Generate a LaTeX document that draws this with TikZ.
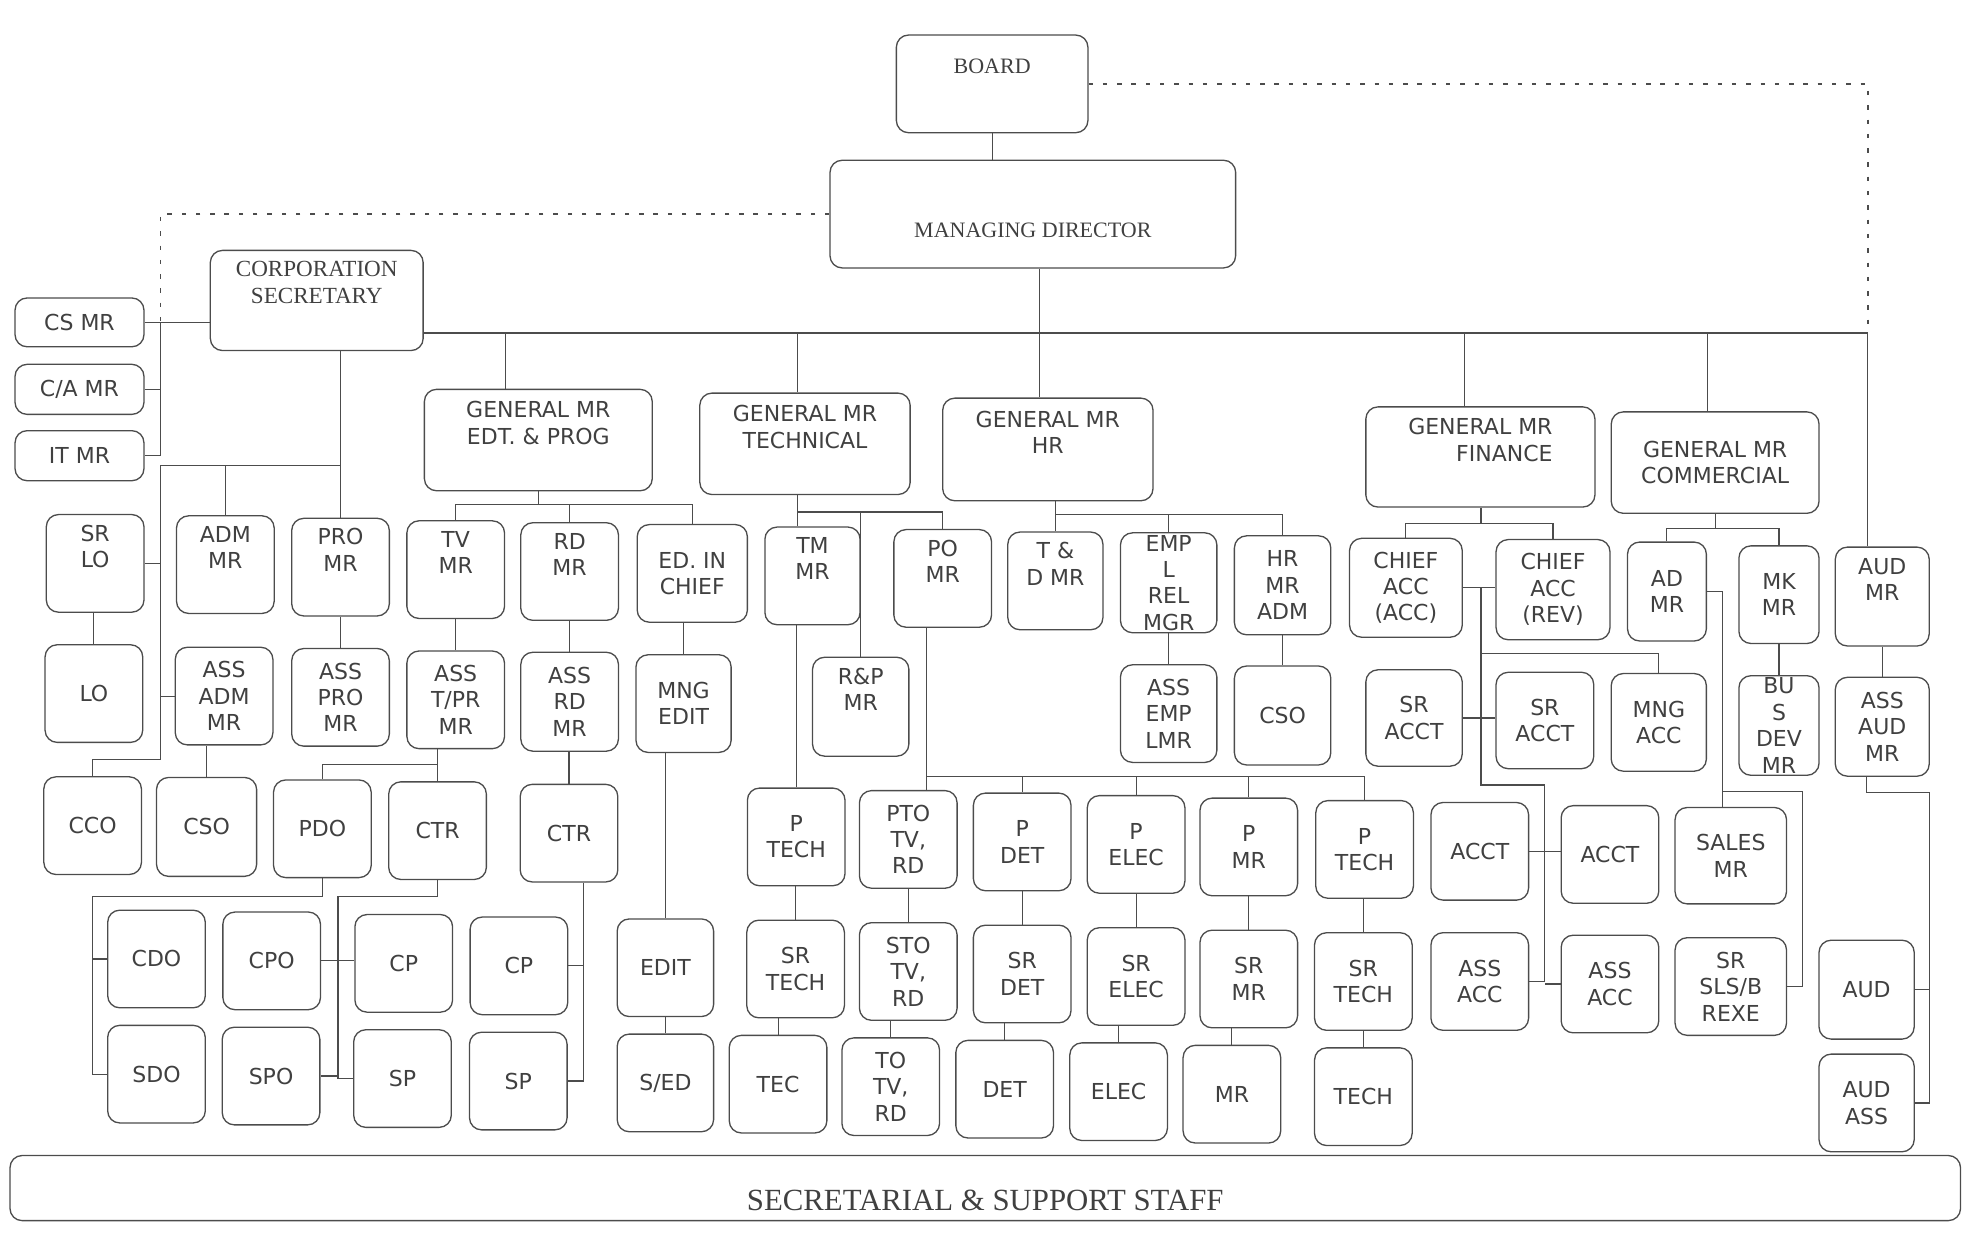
\documentclass[tikz,border=0pt]{standalone}
\usepackage{fontspec}
\setmainfont{DejaVu Sans}
\newfontfamily\serifface{Liberation Serif}
\usetikzlibrary{calc}

\tikzset{
  post/.style={draw=black!70, line width=0.6pt, rounded corners=5.5pt, align=center, inner sep=1pt,
    minimum width=1.56cm, minimum height=1.56cm, text=black!75, font=\fontsize{10}{12}\selectfont},
  wh/.style 2 args={minimum width=#1*0.02cm, minimum height=#2*0.02cm},
  head/.style={post, font=\serifface\fontsize{10}{12.5}\selectfont},
  link/.style={draw=black!70, line width=0.5pt},
  dots/.style={draw=black!70, line width=0.6pt, dash pattern=on 2pt off 4.5pt},
}

\begin{document}
\begin{tikzpicture}[x=0.02cm, y=-0.02cm]
    \useasboundingbox (0,0) rectangle (1568,998);

    % Board and managing director
    \node[head, wh={153}{78}] (board) at (792.5,67) {BOARD\\\strut};
    \node[head, wh={324}{86}] (md) at (825,171) {\strut\\MANAGING DIRECTOR};

    % Corporation secretary and its managers
    \node[head, wh={170}{80}, font=\serifface\fontsize{10.5}{12.5}\selectfont] (corpsec) at (253,240) {CORPORATION\\SECRETARY\\\strut};
    \node[post, wh={103}{39}] (csmr) at (63.5,257.5) {CS MR};
    \node[post, wh={103}{40}] (camr) at (63.5,311) {C/A MR};
    \node[post, wh={103}{40}] (itmr) at (63.5,364) {IT MR};

    % General managers
    \node[post, wh={182}{81}] (gmedt) at (430,351.5) {GENERAL MR\\EDT. \& PROG\\\strut};
    \node[post, wh={168}{81}] (gmtech) at (643,354.5) {GENERAL MR\\TECHNICAL\\\strut};
    \node[post, wh={168}{82}] (gmhr) at (837,359) {GENERAL MR\\HR\\\strut};
    \node[post, wh={183}{80}, align=right] (gmfin) at (1182.5,365) {GENERAL MR\\FINANCE\\\strut};
    \node[post, wh={166}{81}] (gmcomm) at (1370,369.5) {GENERAL MR\\COMMERCIAL};

    % Corporation secretary staff
    \node[post] (srlo) at (76,450) {SR\\LO\\\strut};
    \node[post] (lo) at (75,554) {LO};
    \node[post] (admmr) at (180,451) {ADM\\MR\\\strut};
    \node[post] (promr) at (272,453) {PRO\\MR\\\strut};
    \node[post] (assadmmr) at (179,556) {ASS\\ADM\\MR};
    \node[post] (asspromr) at (272,557) {ASS\\PRO\\MR};
    \node[post] (cco) at (74,659.5) {CCO};
    \node[post, wh={80}{79}] (csoa) at (165,660.5) {CSO};

    % Editorial and programmes
    \node[post] (tvmr) at (364,455) {TV\\MR\\\strut};
    \node[post] (rdmr) at (455,456.5) {RD\\MR\\\strut};
    \node[post, wh={88}{78}] (edinchief) at (553,458) {ED. IN\\CHIEF};
    \node[post] (asstprmr) at (364,559) {ASS\\T/PR\\MR};
    \node[post, wh={78}{79}] (assrdmr) at (455,560.5) {ASS\\RD\\MR};
    \node[post, wh={76}{78}] (mngedit) at (546,562) {MNG\\EDIT};
    \node[post] (pdo) at (257.5,662) {PDO};
    \node[post] (ctra) at (349.5,663.5) {CTR};
    \node[post] (ctrb) at (454.5,665.5) {CTR};
    \node[post] (cdo) at (125,766) {CDO};
    \node[post] (cpo) at (217,767.5) {CPO};
    \node[post] (cpa) at (322.5,769.5) {CP};
    \node[post] (cpb) at (414.5,771.5) {CP};
    \node[post] (sdo) at (125,858) {SDO};
    \node[post] (spo) at (216.5,859.5) {SPO};
    \node[post] (spa) at (321.5,861.5) {SP};
    \node[post] (spb) at (414,863.5) {SP};
    \node[post, wh={77}{78}] (edit) at (531.5,773) {EDIT};
    \node[post, wh={77}{78}] (sed) at (531.5,865) {S/ED};

    % Technical
    \node[post, wh={76}{78}] (tmmr) at (649,460) {TM\\MR\\\strut};
    \node[post] (pomr) at (753,462) {PO\\MR\\\strut};
    \node[post, wh={77}{79}] (rpmr) at (687.5,564.5) {R\&P\\MR\\\strut};
    \foreach \n/\x/\y/\t in {ptecha/636/668.5/{P\\TECH}, pto/725.5/670.5/{PTO\\TV,\\RD}, pdet/816.5/672.5/{P\\DET},
        pelec/907.5/674.5/{P\\ELEC}, pmr/997.5/676.5/{P\\MR}, ptechb/1090/678.5/{P\\TECH},
        srtecha/635.5/774/{SR\\TECH}, sto/725.5/776/{STO\\TV,\\RD}, srdet/816.5/778/{SR\\DET},
        srelec/907.5/780/{SR\\ELEC}, srmr/997.5/782/{SR\\MR}, srtechb/1089/784/{SR\\TECH},
        tec/621.5/866/{TEC}, totvrd/711.5/868/{TO\\TV,\\RD}, det/802.5/870/{DET},
        elec/893.5/872/{ELEC}, mrb/984/874/{MR}, tech/1089/876/{TECH}}
        \node[post] (\n) at (\x,\y) {\t};

    % Human resources
    \node[post, wh={76}{78}] (tdmr) at (843,464) {T \&\\D MR\\\strut};
    \node[post, wh={77}{79}] (empl) at (933.5,465.5) {EMP\\L\\REL\\MGR};
    \node[post, wh={77}{79}] (hradm) at (1024.5,467.5) {HR\\MR\\ADM};
    \node[post, wh={77}{78}] (assemp) at (933.5,570) {ASS\\EMP\\LMR};
    \node[post, wh={77}{79}] (csob) at (1024.5,571.5) {CSO};

    % Finance
    \node[post, wh={90}{79}] (chiefacc) at (1123,469.5) {CHIEF\\ACC\\(ACC)};
    \node[post, wh={91}{80}] (chiefrev) at (1240.5,471) {CHIEF\\ACC\\(REV)};
    \node[post, wh={77}{77}] (sraccta) at (1129.5,573.5) {SR\\ACCT};
    \node[post, wh={78}{77}] (srb) at (1234,575.5) {SR\\ACCT};
    \node[post, wh={76}{78}] (mngacc) at (1325,577) {MNG\\ACC};
    \node[post] (accta) at (1182,680) {ACCT};
    \node[post] (acctb) at (1286,682.5) {ACCT};
    \node[post] (assacca) at (1182,784) {ASS\\ACC};
    \node[post] (assaccb) at (1286,786) {ASS\\ACC};

    % Commercial
    \node[post, wh={63}{79}] (admr) at (1331.5,472.5) {AD\\MR};
    \node[post, wh={64}{78}] (mkmr) at (1421,475) {MK\\MR};
    \node[post, wh={64}{77}] (busdev) at (1421,579.5) {BU\\S\\DEV\\MR};
    \node[post, wh={89}{77}] (salesmr) at (1382.5,683.5) {SALES\\MR};
    \node[post, wh={89}{78}] (srsls) at (1382.5,788) {SR\\SLS/B\\REXE};

    % Audit
    \node[post, wh={75}{79}] (audmr) at (1503.5,476.5) {AUD\\MR\\\strut};
    \node[post, wh={75}{79}] (assaudmr) at (1503.5,580.5) {ASS\\AUD\\MR};
    \node[post, wh={76}{79}] (aud) at (1491,790.5) {AUD};
    \node[post, wh={76}{78}] (audass) at (1491,881) {AUD\\ASS};

    % Support staff
    \node[head, wh={1558}{52}, text height=20pt, text depth=0pt, font=\serifface\fontsize{14}{16}\selectfont] (sss) at (787,949) {SECRETARIAL \& SUPPORT STAFF};

    % Top links
    \coordinate (busR) at (1492,266);
    \coordinate (hx) at (830,266);
    \coordinate (sx) at (128,257.5);
    \draw[link] (board.south) -- (board.south |- md.north);
    \draw[dots] (board.east) -| (busR);
    \draw[dots] (md.west) -| (sx);
    \draw[link] (corpsec.east |- busR) -- (busR) -- (busR |- audmr.north);
    \draw[link] (md.south -| hx) -- (hx |- gmhr.north);
    \foreach \n/\x in {gmedt/404, gmtech/637, gmfin/1170, gmcomm/1364}
        \draw[link] (\x,266) -- (\x,0 |- \n.north);

    % Corporation secretary links
    \draw[link] (csmr.east) -- (csmr.east -| corpsec.west);
    \draw[link] (sx) |- (itmr.east);
    \draw[link] (camr.east) -- (camr.east -| sx);
    \coordinate (cj) at (128,372);
    \coordinate (cb) at (128,607);
    \draw[link] (promr.north) -- (promr.north |- corpsec.south);
    \draw[link] (cb) -- (cj) -- (cj -| promr.north);
    \draw[link] (admmr.north) -- (admmr.north |- cj);
    \draw[link] (cb) -| (cco.north);
    \draw[link] (srlo.east) -- (srlo.east -| cj);
    \draw[link] (assadmmr.west) -- (assadmmr.west -| cj);

    % Straight drops
    \foreach \a/\b in {srlo/lo, promr/asspromr, assadmmr/csoa, tvmr/asstprmr, rdmr/assrdmr, asstprmr/ctra,
        assrdmr/ctrb, edinchief/mngedit, mngedit/edit, edit/sed, tmmr/ptecha, ptecha/srtecha, srtecha/tec,
        pto/sto, sto/totvrd, pdet/srdet, srdet/det, pelec/srelec, srelec/elec, pmr/srmr, srmr/mrb,
        ptechb/srtechb, srtechb/tech, empl/assemp, hradm/csob, mkmr/busdev, audmr/assaudmr}
        \draw[link] (\b.north) -- (\b.north |- \a.south);

    % Editorial links
    \coordinate (ej) at (430,403);
    \draw[link] (gmedt.south) -- (ej);
    \draw[link] (tvmr.north) |- (ej) -| (edinchief.north);
    \draw[link] (rdmr.north) -- (rdmr.north |- ej);
    \coordinate (tj) at (349.5,611);
    \draw[link] (pdo.north) |- (tj);
    \coordinate (pj) at (74,716);
    \draw[link] (pdo.south) |- (pj) |- (sdo.west);
    \draw[link] (cdo.west) -- (cdo.west -| pj);
    \coordinate (qj) at (270,716);
    \draw[link] (ctra.south) |- (qj) |- (spa.west);
    \draw[link] (spo.east) -- (spo.east -| qj);
    \draw[link] (cpo.east) -- (cpa.west |- cpo.east);
    \coordinate (rj) at (466,705);
    \draw[link] (ctrb.south -| rj) -- (rj |- spb.east) -- (spb.east);
    \draw[link] (cpb.east) -- (cpb.east -| rj);

    % Technical links
    \coordinate (kj) at (637,409);
    \draw[link] (gmtech.south -| kj) -- (kj |- tmmr.north);
    \draw[link] (kj) -| (pomr.north);
    \draw[link] (rpmr.north) -- (rpmr.north |- kj);
    \coordinate (oj) at (740,620);
    \draw[link] (pomr.south -| oj) -- (oj |- pto.north);
    \draw[link] (oj) -| (ptechb.north);
    \foreach \n in {pdet, pelec, pmr}
        \draw[link] (\n.north) -- (\n.north |- oj);

    % HR links
    \coordinate (hj) at (843,411);
    \draw[link] (gmhr.south -| hj) -- (hj |- tdmr.north);
    \draw[link] (hj) -| (hradm.north);
    \draw[link] (empl.north) -- (empl.north |- hj);

    % Finance links
    \coordinate (fj) at (1183,418);
    \coordinate (fm) at (1183,522);
    \coordinate (fn) at (1183,627);
    \coordinate (fo) at (1234,627);
    \draw[link] (gmfin.south -| fj) -- (fj);
    \draw[link] (chiefacc.north) |- (fj) -| (chiefrev.north);
    \draw[link] (chiefacc.east) -- (chiefacc.east -| chiefrev.west);
    \draw[link] (chiefacc.east -| fj) -- (fn) -- (fo) |- (assacca.east);
    \draw[link] (fm) -| (mngacc.north);
    \draw[link] (sraccta.east) -- (srb.west |- sraccta.east);
    \draw[link] (accta.east) -- (acctb.west |- accta.east);
    \draw[link] (assaccb.west) -- (assaccb.west -| fo);

    % Commercial links
    \coordinate (mj) at (1370,422);
    \coordinate (sj) at (1376,632);
    \coordinate (sl) at (1440,632);
    \draw[link] (gmcomm.south) -- (mj);
    \draw[link] (admr.north) |- (mj) -| (mkmr.north);
    \draw[link] (admr.east) -| (sj |- salesmr.north);
    \draw[link] (sj) -- (sl) |- (srsls.east);

    % Audit links
    \coordinate (aj) at (1491,633);
    \coordinate (ak) at (1541,633);
    \draw[link] (assaudmr.south -| aj) -- (aj) -- (ak) |- (audass.east);
    \draw[link] (aud.east) -- (aud.east -| ak);
\end{tikzpicture}
\end{document}
